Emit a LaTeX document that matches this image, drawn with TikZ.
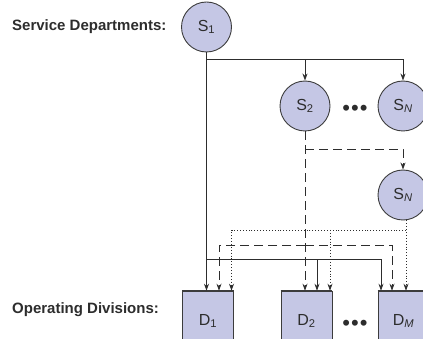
\documentclass[tikz,border=0pt]{standalone}
\usepackage{fontspec}
\setmainfont{Liberation Sans}
\usetikzlibrary{arrows.meta,positioning}
\definecolor{deptfill}{RGB}{197,199,229}
\definecolor{edge}{RGB}{60,60,60}
\definecolor{ink}{RGB}{45,45,45}

\begin{document}
\begin{tikzpicture}[x=1pt,y=-1pt,
	dept/.style={circle,draw=edge,fill=deptfill,line width=0.9pt,minimum size=50pt,inner sep=0pt,text=ink,font=\fontsize{16}{18}\selectfont},
	div/.style={rectangle,draw=edge,fill=deptfill,line width=0.6pt,minimum width=51pt,minimum height=60pt,inner sep=0pt,text=ink,font=\fontsize{16}{18}\selectfont},
	conn/.style={line width=0.8pt,draw=ink,-{Stealth[length=7pt,width=5pt]}},
	solidline/.style={conn},
	dashline/.style={conn,dash pattern=on 9pt off 5pt},
	dotline/.style={conn,dash pattern=on 0.9pt off 2pt},
	caption/.style={anchor=west,inner sep=0pt,text=ink,font=\fontsize{15}{18}\selectfont\bfseries},
	ellip/.style={inner sep=0pt,text=ink,font=\fontsize{22}{24}\selectfont}]
		\useasboundingbox (0,0) rectangle (423,339);
		
		% captions
		\node[caption] (svc) at (12,27) {Service Departments:};
		\node[caption] (ops) at (12,310) {Operating Divisions:};
		
		% service departments
		\node[dept] (S1) at (206.5,27) {S\textsubscript{1}};
		\node[dept] (S2) at (305,106) {S\textsubscript{2}};
		\node[dept] (SN) at (403,106) {S\textsubscript{\textit{N}}};
		\node[dept] (SN2) at (403,195) {S\textsubscript{\textit{N}}};
		\node[ellip] (dotsS) at (355,110) {\textbullet\kern1pt\textbullet\kern1pt\textbullet};
		
		% operating divisions
		\node[div] (D1) at (208,321) {D\textsubscript{1}};
		\node[div] (D2) at (306.5,321) {D\textsubscript{2}};
		\node[div] (DM) at (403.5,321) {D\textsubscript{\textit{M}}};
		\node[ellip] (dotsD) at (355,325) {\textbullet\kern1pt\textbullet\kern1pt\textbullet};
		\foreach \d in {D1,D2,DM}
			\draw[line width=1.5pt,edge] (\d.north west) -- (\d.north east);
		
		% solid: from S1
		\coordinate (hubtop) at (206.5,59);
		\coordinate (hublow) at (206.5,259);
		\draw[solidline] (S1) -- ([xshift=-1.5pt]D1.north);
		\draw[solidline] (hubtop) -| (S2);
		\draw[solidline] (hubtop) -| (SN);
		\draw[solidline] (hublow) -| ([xshift=10.5pt]D2.north);
		\draw[solidline] (hublow) -| ([xshift=-22.5pt]DM.north);
		
		% dashed: from S2
		\coordinate (dashtop) at (305,149);
		\coordinate (dashlow) at (305,245);
		\draw[dashline] (S2) -- ([xshift=-1.5pt]D2.north);
		\draw[dashline] (dashtop) -| (SN2);
		\draw[dashline] (dashlow) -| ([xshift=11pt]D1.north);
		\draw[dashline] (dashlow) -| ([xshift=-11.5pt]DM.north);
		
		% dotted: from SN
		\coordinate (dotjoin) at (406,230);
		\coordinate (dotmid) at (330,230);
		\draw[dotline] ([xshift=3pt]SN2.south) -- ([xshift=2.5pt]DM.north);
		\draw[dotline] (dotjoin) -| ([xshift=23.5pt]D1.north);
		\draw[dotline] (dotmid) -- ([xshift=23.5pt]D2.north);
\end{tikzpicture}
\end{document}
